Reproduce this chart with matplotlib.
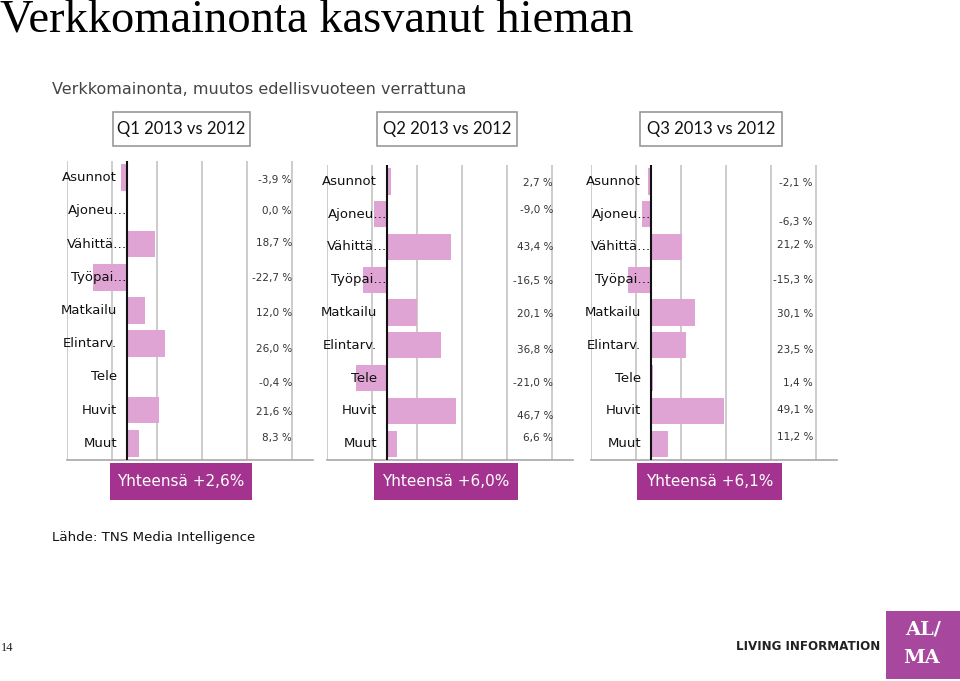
import matplotlib
matplotlib.use("Agg")
import matplotlib.pyplot as plt
from matplotlib.patches import Rectangle

# ---------------- data ----------------
categories = ["Asunnot", "Ajoneu…", "Vähittä…", "Työpai…", "Matkailu",
              "Elintarv.", "Tele", "Huvit", "Muut"]
q1_values = [-3.9, 0.0, 18.7, -22.7, 12.0, 26.0, -0.4, 21.6, 8.3]
q2_values = [2.7, -9.0, 43.4, -16.5, 20.1, 36.8, -21.0, 46.7, 6.6]
q3_values = [-2.1, -6.3, 21.2, -15.3, 30.1, 23.5, 1.4, 49.1, 11.2]
panel_titles = ["Q1 2013 vs 2012", "Q2 2013 vs 2012", "Q3 2013 vs 2012"]
totals = ["Yhteensä +2,6%", "Yhteensä +6,0%", "Yhteensä +6,1%"]
title = "Verkkomainonta kasvanut hieman"
subtitle = "Verkkomainonta, muutos edellisvuoteen verrattuna"
source = "Lähde: TNS Media Intelligence"

# ---------------- style ----------------
W, H = 960, 681
BAR = "#DFA3D4"
PURPLE = "#A3338F"
GRID = "#C8C8C8"
SCALE = 1.48          # px per percent
GRID_STEP = 30.4      # percent between gridlines
X_MIN = -40.5

def fx(x):
    return x / W

def fy(y):
    return 1 - y / H

fig = plt.figure(figsize=(W / 100, H / 100), dpi=100)
fig.patch.set_facecolor("white")

# panel geometry in pixels (left, top, bottom)
panels_px = [(67, 161, 460), (327, 165, 460), (591, 165, 460)]
axes_width_px = 246
label_yoff = [
    [2.4, 0, -1, 1, 2.6, 5.4, 6.2, 2, -5.2],
    [1.6, -4, 0, 1, 1.4, 4.6, 5, 5, -6],
    [1.6, 8, -2, 0, 1.4, 4.6, 5, -1, -7],
]
label_xoff = [0, 1, -3]

series = [q1_values, q2_values, q3_values]
x_max = X_MIN + axes_width_px / SCALE
grid_vals = [X_MIN + GRID_STEP * k for k in range(6)]

for i, (vals, (lpx, tpx, bpx)) in enumerate(zip(series, panels_px)):
    ax = fig.add_axes([fx(lpx), fy(bpx), axes_width_px / W, (bpx - tpx) / H])
    ax.set_xlim(X_MIN, x_max)
    ax.set_ylim(len(categories) - 0.5, -0.5)
    for g in grid_vals:
        ax.axvline(g, color=GRID, lw=1.3, zorder=0)
    ax.barh(range(len(categories)), vals, height=0.8, color=BAR, zorder=2)
    ax.axvline(0, color="#111111", lw=1.5, zorder=3)
    for s in ["top", "right", "left"]:
        ax.spines[s].set_visible(False)
    ax.spines["bottom"].set_color("#A8A8A8")
    ax.spines["bottom"].set_linewidth(1.2)
    ax.set_xticks([])
    ax.set_yticks([])
    for j, (cat, v) in enumerate(zip(categories, vals)):
        xo = 0 if cat.endswith("…") else -10
        ax.annotate(cat, xy=(0, j), xytext=(xo * 0.72, 0), textcoords="offset points",
                    ha="right", va="center", fontsize=9.5, color="#111111",
                    family="DejaVu Sans", zorder=4)
        txt = f"{v:.1f}".replace(".", ",") + " %"
        ax.annotate(txt, xy=(grid_vals[-1], j),
                    xytext=(label_xoff[i] * 0.72, -label_yoff[i][j] * 0.72),
                    textcoords="offset points", ha="right", va="center",
                    fontsize=7.5, color="#333333", family="DejaVu Sans", zorder=4)

# ---------------- header boxes ----------------
q_boxes = [(113, 250), (377, 517), (640, 782)]
for (x0, x1), t in zip(q_boxes, panel_titles):
    fig.patches.append(Rectangle((fx(x0), fy(146)), (x1 - x0) / W, 34 / H,
                                 transform=fig.transFigure, facecolor="white",
                                 edgecolor="#9A9A9A", lw=1.2))
    fig.text(fx((x0 + x1) / 2), fy(129), t, ha="center", va="center",
             fontsize=12, family="Lato", color="#111111")

tot_boxes = [(110, 252), (374, 518), (637, 782)]
for (x0, x1), t in zip(tot_boxes, totals):
    fig.patches.append(Rectangle((fx(x0), fy(500)), (x1 - x0) / W, 37 / H,
                                 transform=fig.transFigure, facecolor=PURPLE,
                                 edgecolor="none"))
    fig.text(fx((x0 + x1) / 2), fy(482), t, ha="center", va="center",
             fontsize=11, family="DejaVu Sans", color="white")

# ---------------- texts ----------------
fig.text(fx(0), fy(0), title, ha="left", va="top", fontsize=33.5,
         family="Liberation Serif", color="#000000")
fig.text(fx(52), fy(89), subtitle, ha="left", va="center", fontsize=11.5,
         family="DejaVu Sans", color="#444444")
fig.text(fx(52), fy(537), source, ha="left", va="center", fontsize=9.6,
         family="DejaVu Sans", color="#111111")
fig.text(fx(1), fy(648), "14", ha="left", va="center", fontsize=9,
         family="Liberation Serif", color="#222222")
fig.text(fx(880), fy(647), "LIVING INFORMATION", ha="right", va="center",
         fontsize=8.6, family="DejaVu Sans", fontweight="bold", color="#222222")

# ALMA logo
fig.patches.append(Rectangle((fx(886), fy(679)), 74 / W, 68 / H,
                             transform=fig.transFigure, facecolor="#A8479E",
                             edgecolor="none"))
fig.text(fx(923), fy(630), "AL/", ha="center", va="center", fontsize=14,
         family="DejaVu Serif", fontweight="bold", color="white")
fig.text(fx(921), fy(658), "MA", ha="center", va="center", fontsize=14,
         family="DejaVu Serif", fontweight="bold", color="white")

fig.savefig("out.png", dpi=100, facecolor="white")
